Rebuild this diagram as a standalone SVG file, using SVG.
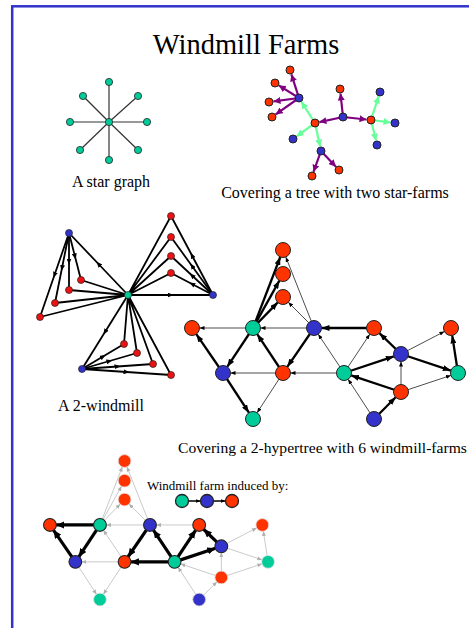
<svg xmlns="http://www.w3.org/2000/svg" width="469" height="628" viewBox="0 0 469 628">
<style>
text{font-family:"Liberation Serif","Times New Roman",serif;fill:#000}
.st{stroke:#333;stroke-width:1.2}
.sn{fill:#00cc99;stroke:#222;stroke-width:0.8}
.pe{stroke:#800080;stroke-width:2.2;fill:none;marker-end:url(#mp)}
.ge{stroke:#66ff99;stroke-width:2.2;fill:none;marker-end:url(#mg)}
.tr{fill:#ff3300;stroke:#222;stroke-width:1}
.tb{fill:#3333cc;stroke:#222;stroke-width:1}
.we{stroke:#000;stroke-width:1.8;fill:none}
.wa{marker-mid:url(#mw)}
.wr{fill:#ee1111;stroke:#222;stroke-width:0.7}
.wb{fill:#3333cc;stroke:#222;stroke-width:0.7}
.wt{fill:#00cc99;stroke:#222;stroke-width:0.7}
.hk{stroke:#000;stroke-width:2.3;fill:none;marker-end:url(#ak)}
.hn{stroke:#000;stroke-width:0.7;fill:none;marker-end:url(#an)}
.hr{fill:#ff3300;stroke:#222;stroke-width:1}
.hb{fill:#3333cc;stroke:#222;stroke-width:1}
.ht{fill:#00cc99;stroke:#222;stroke-width:1}
.bk{stroke:#000;stroke-width:3.9;fill:none;marker-end:url(#ak2)}
.bg{stroke:#c4c4c4;stroke-width:1.1;fill:none;marker-end:url(#ag)}
.br{fill:#ff3300;stroke:#222;stroke-width:1.3}
.bb{fill:#3333cc;stroke:#222;stroke-width:1.3}
.bt{fill:#00cc99;stroke:#222;stroke-width:1.3}
.fr{fill:#ff3300;stroke:#e0e0e0;stroke-width:1}
.fb{fill:#3333cc;stroke:#d0d0d0;stroke-width:1}
.ft{fill:#00cc99;stroke:#e0e0e0;stroke-width:1}
.lbl{font-size:16px;text-anchor:middle}
</style>
<defs>
<marker id="mp" markerUnits="userSpaceOnUse" markerWidth="8" markerHeight="7" refX="7" refY="3.5" orient="auto"><path d="M0,0 L7,3.5 L0,7 z" fill="#800080"/></marker>
<marker id="mg" markerUnits="userSpaceOnUse" markerWidth="8" markerHeight="7" refX="7" refY="3.5" orient="auto"><path d="M0,0 L7,3.5 L0,7 z" fill="#66ff99"/></marker>
<marker id="mw" markerUnits="userSpaceOnUse" markerWidth="6" markerHeight="5" refX="3" refY="2.5" orient="auto"><path d="M0,0 L6,2.5 L0,5 z" fill="#000"/></marker>
<marker id="ak" markerUnits="userSpaceOnUse" markerWidth="8" markerHeight="6" refX="8" refY="3" orient="auto"><path d="M0,0 L8,3 L0,6 z" fill="#000"/></marker>
<marker id="an" markerUnits="userSpaceOnUse" markerWidth="5" markerHeight="4" refX="5" refY="2" orient="auto"><path d="M0,0 L5,2 L0,4 z" fill="#000"/></marker>
<marker id="ak2" markerUnits="userSpaceOnUse" markerWidth="10" markerHeight="9" refX="10" refY="4.5" orient="auto"><path d="M0,0 L10,4.5 L0,9 z" fill="#000"/></marker>
<marker id="ag" markerUnits="userSpaceOnUse" markerWidth="6" markerHeight="5" refX="6" refY="2.5" orient="auto"><path d="M0,0 L6,2.5 L0,5 z" fill="#b0b0b0"/></marker>
</defs>
<rect x="12.2" y="6.3" width="470" height="640" fill="#fff" stroke="#3333cc" stroke-width="2.5"/>
<text x="246" y="54" font-size="28.5" text-anchor="middle">Windmill Farms</text>

<!-- Star graph -->
<g id="star-edges">
<line class="st" x1="109" y1="122" x2="109" y2="82"/>
<line class="st" x1="109" y1="122" x2="83" y2="96"/>
<line class="st" x1="109" y1="122" x2="138" y2="96"/>
<line class="st" x1="109" y1="122" x2="70" y2="122"/>
<line class="st" x1="109" y1="122" x2="147" y2="122"/>
<line class="st" x1="109" y1="122" x2="80" y2="150"/>
<line class="st" x1="109" y1="122" x2="138" y2="150"/>
<line class="st" x1="109" y1="122" x2="109" y2="160"/>
</g>
<g id="star-nodes">
<circle class="sn" cx="109" cy="122" r="3.6"/>
<circle class="sn" cx="109" cy="82" r="3.6"/>
<circle class="sn" cx="83" cy="96" r="3.6"/>
<circle class="sn" cx="138" cy="96" r="3.6"/>
<circle class="sn" cx="70" cy="122" r="3.6"/>
<circle class="sn" cx="147" cy="122" r="3.6"/>
<circle class="sn" cx="80" cy="150" r="3.6"/>
<circle class="sn" cx="138" cy="150" r="3.6"/>
<circle class="sn" cx="109" cy="160" r="3.6"/>
</g>
<text class="lbl" x="111" y="187">A star graph</text>

<!-- Tree with two star-farms -->
<g id="tree-edges">
<line class="pe" x1="299" y1="98" x2="291.4" y2="74.3"/>
<line class="pe" x1="299" y1="98" x2="278.8" y2="85.4"/>
<line class="pe" x1="299" y1="98" x2="273.5" y2="101.4"/>
<line class="pe" x1="299" y1="98" x2="275.7" y2="114.4"/>
<line class="pe" x1="343" y1="117" x2="340.5" y2="93.5"/>
<line class="pe" x1="343" y1="117" x2="319.4" y2="122.1"/>
<line class="pe" x1="343" y1="117" x2="366.5" y2="119.5"/>
<line class="pe" x1="321" y1="151" x2="313.5" y2="171.8"/>
<line class="pe" x1="321" y1="151" x2="335.9" y2="166.7"/>
<line class="ge" x1="315" y1="123" x2="301.4" y2="101.8"/>
<line class="ge" x1="315" y1="123" x2="296.6" y2="136.4"/>
<line class="ge" x1="315" y1="123" x2="320.1" y2="146.6"/>
<line class="ge" x1="371" y1="120" x2="378.6" y2="96.3"/>
<line class="ge" x1="371" y1="120" x2="390.5" y2="122.4"/>
<line class="ge" x1="371" y1="120" x2="376" y2="140.6"/>
</g>
<g id="tree-nodes">
<circle class="tb" cx="299" cy="98" r="4"/>
<circle class="tr" cx="290" cy="70" r="4"/>
<circle class="tr" cx="275" cy="83" r="4"/>
<circle class="tr" cx="269" cy="102" r="4"/>
<circle class="tr" cx="272" cy="117" r="4"/>
<circle class="tr" cx="315" cy="123" r="4"/>
<circle class="tb" cx="293" cy="139" r="4"/>
<circle class="tb" cx="321" cy="151" r="4"/>
<circle class="tr" cx="312" cy="176" r="4"/>
<circle class="tr" cx="339" cy="170" r="4"/>
<circle class="tb" cx="343" cy="117" r="4"/>
<circle class="tr" cx="340" cy="89" r="4"/>
<circle class="tr" cx="371" cy="120" r="4"/>
<circle class="tb" cx="380" cy="92" r="4"/>
<circle class="tb" cx="395" cy="123" r="4"/>
<circle class="tb" cx="377" cy="145" r="4"/>
</g>
<text class="lbl" x="335" y="198">Covering a tree with two star-farms</text>

<!-- 2-windmill -->
<g id="windmill-edges">
<path class="we wa" d="M128,295 L98.5,264 L69,233"/>
<path class="we wa" d="M69,233 L75,256.5 L81,280"/>
<path class="we wa" d="M69,233 L69,261.5 L69,290"/>
<path class="we wa" d="M69,233 L62,268 L55,303"/>
<path class="we wa" d="M69,233 L54.5,275 L40,317"/>
<path class="we" d="M81,280 L128,295 M69,290 L128,295 M55,303 L128,295 M40,317 L128,295"/>
<path class="we wa" d="M128,295 L170.5,295 L213,295"/>
<path class="we wa" d="M213,295 L192,255.5 L171,216"/>
<path class="we wa" d="M213,295 L192,266 L171,237"/>
<path class="we wa" d="M213,295 L192,275.5 L171,256"/>
<path class="we wa" d="M213,295 L192,284 L171,273"/>
<path class="we" d="M171,216 L128,295 M171,237 L128,295 M171,256 L128,295 M171,273 L128,295"/>
<path class="we wa" d="M128,295 L105,332 L82,369"/>
<path class="we wa" d="M82,369 L103,356.5 L124,344"/>
<path class="we wa" d="M82,369 L109.5,361 L137,353"/>
<path class="we wa" d="M82,369 L117.5,366.5 L153,364"/>
<path class="we wa" d="M82,369 L126.5,372 L171,375"/>
<path class="we" d="M124,344 L128,295 M137,353 L128,295 M153,364 L128,295 M171,375 L128,295"/>
</g>
<g id="windmill-nodes">
<circle class="wt" cx="128" cy="295" r="3.5"/>
<circle class="wb" cx="69" cy="233" r="3.5"/>
<circle class="wr" cx="81" cy="280" r="3.5"/>
<circle class="wr" cx="69" cy="290" r="3.5"/>
<circle class="wr" cx="55" cy="303" r="3.5"/>
<circle class="wr" cx="40" cy="317" r="3.5"/>
<circle class="wb" cx="213" cy="295" r="3.5"/>
<circle class="wr" cx="171" cy="216" r="3.5"/>
<circle class="wr" cx="171" cy="237" r="3.5"/>
<circle class="wr" cx="171" cy="256" r="3.5"/>
<circle class="wr" cx="171" cy="273" r="3.5"/>
<circle class="wb" cx="82" cy="369" r="3.5"/>
<circle class="wr" cx="124" cy="344" r="3.5"/>
<circle class="wr" cx="137" cy="353" r="3.5"/>
<circle class="wr" cx="153" cy="364" r="3.5"/>
<circle class="wr" cx="171" cy="375" r="3.5"/>
</g>
<text class="lbl" x="101" y="411">A 2-windmill</text>

<!-- 2-hypertree -->
<g id="hyper-edges">
<line class="hk" x1="253" y1="328" x2="280.3" y2="257"/>
<line class="hk" x1="253" y1="328" x2="279.4" y2="280.6"/>
<line class="hk" x1="253" y1="328" x2="277.8" y2="302.4"/>
<line class="hn" x1="314" y1="328" x2="285.8" y2="257"/>
<line class="hn" x1="314" y1="328" x2="288.3" y2="302.3"/>
<line class="hn" x1="253" y1="328" x2="199.5" y2="328"/>
<line class="hn" x1="314" y1="328" x2="260.5" y2="328"/>
<line class="hk" x1="374" y1="328" x2="321.5" y2="328"/>
<line class="hk" x1="253" y1="328" x2="227.2" y2="366.8"/>
<line class="hk" x1="283" y1="373" x2="257.2" y2="334.2"/>
<line class="hk" x1="314" y1="328" x2="287.3" y2="366.8"/>
<line class="hk" x1="223" y1="373" x2="196.3" y2="334.2"/>
<line class="hn" x1="283" y1="373" x2="230.5" y2="373"/>
<line class="hn" x1="344" y1="373" x2="290.5" y2="373"/>
<line class="hn" x1="344" y1="373" x2="318.2" y2="334.2"/>
<line class="hn" x1="344" y1="373" x2="369.8" y2="334.2"/>
<line class="hk" x1="223" y1="373" x2="248.9" y2="412.7"/>
<line class="hn" x1="283" y1="373" x2="257.1" y2="412.7"/>
<line class="hk" x1="401" y1="354" x2="379.4" y2="333.2"/>
<line class="hk" x1="344" y1="373" x2="393.9" y2="356.4"/>
<line class="hk" x1="401" y1="354" x2="450.9" y2="370.6"/>
<line class="hn" x1="401" y1="354" x2="444.4" y2="331.5"/>
<line class="hk" x1="458" y1="373" x2="452.2" y2="335.4"/>
<line class="hn" x1="401" y1="392" x2="450.9" y2="375.4"/>
<line class="hn" x1="401" y1="392" x2="401" y2="361.5"/>
<line class="hk" x1="401" y1="392" x2="351.1" y2="375.4"/>
<line class="hk" x1="374" y1="419" x2="395.7" y2="397.3"/>
<line class="hn" x1="374" y1="419" x2="348.1" y2="379.3"/>
</g>
<g id="hyper-nodes">
<circle id="h-r1" class="hr" cx="283" cy="250" r="7.5"/>
<circle id="h-r2" class="hr" cx="283" cy="274" r="7.5"/>
<circle id="h-r3" class="hr" cx="283" cy="297" r="7.5"/>
<circle id="h-rl" class="hr" cx="192" cy="328" r="7.5"/>
<circle id="h-t1" class="ht" cx="253" cy="328" r="7.5"/>
<circle id="h-b1" class="hb" cx="314" cy="328" r="7.5"/>
<circle id="h-r4" class="hr" cx="374" cy="328" r="7.5"/>
<circle id="h-r5" class="hr" cx="451" cy="328" r="7.5"/>
<circle id="h-b2" class="hb" cx="223" cy="373" r="7.5"/>
<circle id="h-r6" class="hr" cx="283" cy="373" r="7.5"/>
<circle id="h-t2" class="ht" cx="344" cy="373" r="7.5"/>
<circle id="h-b3" class="hb" cx="401" cy="354" r="7.5"/>
<circle id="h-t3" class="ht" cx="458" cy="373" r="7.5"/>
<circle id="h-r7" class="hr" cx="401" cy="392" r="7.5"/>
<circle id="h-t4" class="ht" cx="253" cy="419" r="7.5"/>
<circle id="h-b4" class="hb" cx="374" cy="419" r="7.5"/>
</g>
<text x="178" y="453" font-size="15.6">Covering a 2-hypertree with 6 windmill-farms</text>

<!-- Windmill farm induced -->
<g id="farm" transform="matrix(0.82 0 0 0.82 -107.5 256)">
<g id="farm-edges">
<line class="bg" x1="253" y1="328" x2="280.3" y2="257"/>
<line class="bg" x1="253" y1="328" x2="279.4" y2="280.6"/>
<line class="bg" x1="253" y1="328" x2="277.8" y2="302.4"/>
<line class="bg" x1="314" y1="328" x2="285.8" y2="257"/>
<line class="bg" x1="314" y1="328" x2="288.3" y2="302.3"/>
<line class="bg" x1="314" y1="328" x2="260.5" y2="328"/>
<line class="bg" x1="374" y1="328" x2="321.5" y2="328"/>
<line class="bg" x1="283" y1="373" x2="257.2" y2="334.2"/>
<line class="bg" x1="283" y1="373" x2="230.5" y2="373"/>
<line class="bg" x1="223" y1="373" x2="248.9" y2="412.7"/>
<line class="bg" x1="283" y1="373" x2="257.1" y2="412.7"/>
<line class="bg" x1="401" y1="354" x2="450.9" y2="370.6"/>
<line class="bg" x1="401" y1="354" x2="444.4" y2="331.5"/>
<line class="bg" x1="458" y1="373" x2="452.2" y2="335.4"/>
<line class="bg" x1="401" y1="392" x2="450.9" y2="375.4"/>
<line class="bg" x1="401" y1="392" x2="401" y2="361.5"/>
<line class="bg" x1="401" y1="392" x2="351.1" y2="375.4"/>
<line class="bg" x1="374" y1="419" x2="395.7" y2="397.3"/>
<line class="bg" x1="374" y1="419" x2="348.1" y2="379.3"/>
<line class="bk" x1="253" y1="328" x2="199.5" y2="328"/>
<line class="bk" x1="253" y1="328" x2="227.2" y2="366.8"/>
<line class="bk" x1="223" y1="373" x2="196.3" y2="334.2"/>
<line class="bk" x1="314" y1="328" x2="287.3" y2="366.8"/>
<line class="bk" x1="344" y1="373" x2="290.5" y2="373"/>
<line class="bk" x1="344" y1="373" x2="318.2" y2="334.2"/>
<line class="bk" x1="344" y1="373" x2="369.8" y2="334.2"/>
<line class="bk" x1="344" y1="373" x2="393.9" y2="356.4"/>
<line class="bk" x1="401" y1="354" x2="379.4" y2="333.2"/>
</g>
<g id="farm-nodes">
<circle class="fr" cx="283" cy="250" r="7.8"/>
<circle class="fr" cx="283" cy="274" r="7.8"/>
<circle class="fr" cx="283" cy="297" r="7.8"/>
<circle class="br" cx="192" cy="328" r="7.8"/>
<circle class="bt" cx="253" cy="328" r="7.8"/>
<circle class="bb" cx="314" cy="328" r="7.8"/>
<circle class="br" cx="374" cy="328" r="7.8"/>
<circle class="fr" cx="451" cy="328" r="7.8"/>
<circle class="bb" cx="223" cy="373" r="7.8"/>
<circle class="br" cx="283" cy="373" r="7.8"/>
<circle class="bt" cx="344" cy="373" r="7.8"/>
<circle class="bb" cx="401" cy="354" r="7.8"/>
<circle class="ft" cx="458" cy="373" r="7.8"/>
<circle class="fr" cx="401" cy="392" r="7.8"/>
<circle class="ft" cx="253" cy="419" r="7.8"/>
<circle class="fb" cx="374" cy="419" r="7.8"/>
</g>
</g>

<!-- Legend -->
<text x="147" y="490" font-size="13">Windmill farm induced by:</text>
<g id="legend-edges">
<line x1="188.5" y1="501" x2="200.5" y2="501" stroke="#000" stroke-width="1.5" marker-end="url(#an)"/>
<line x1="213.5" y1="501" x2="225.5" y2="501" stroke="#000" stroke-width="1.5" marker-end="url(#an)"/>
</g>
<g id="legend-nodes">
<circle class="bt" cx="182" cy="501" r="6.5"/>
<circle class="bb" cx="207" cy="501" r="6.5"/>
<circle class="br" cx="232" cy="501" r="6.5"/>
</g>
</svg>
